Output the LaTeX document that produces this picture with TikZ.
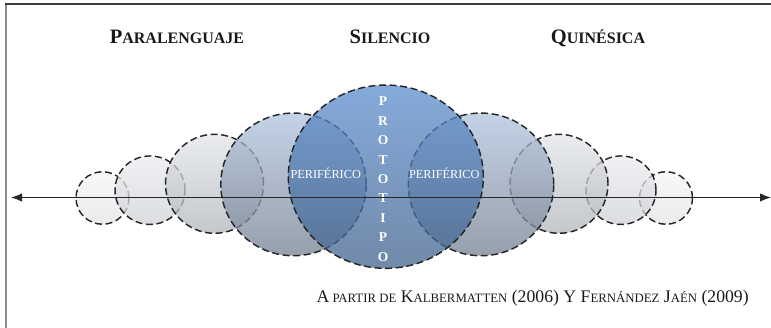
\documentclass[tikz,border=0pt]{standalone}
\usepackage{fontspec}
\setmainfont{Liberation Serif}
\usetikzlibrary{shapes.geometric,arrows.meta}
\definecolor{bigT}{RGB}{92,142,206}
\definecolor{bigB}{RGB}{66,98,140}
\definecolor{cfT}{RGB}{176,195,222}
\definecolor{cfB}{RGB}{116,128,144}
\definecolor{ctT}{RGB}{227,229,233}
\definecolor{ctB}{RGB}{176,180,186}
\definecolor{csT}{RGB}{235,236,239}
\definecolor{csB}{RGB}{206,209,213}
\definecolor{coT}{RGB}{246,246,246}
\definecolor{coB}{RGB}{228,228,229}
\definecolor{frameTop}{RGB}{60,60,60}
\definecolor{frameLeft}{RGB}{140,140,140}
\newcommand\headsc[2]{#1{\fontsize{16pt}{18pt}\selectfont #2}}
\newcommand\capsc[2]{#1{\fontsize{12.8pt}{14pt}\selectfont #2}}
\tikzset{
  bubble/.style={ellipse, inner sep=0pt, draw=black!85, line width=1.45pt,
    dash pattern=on 7pt off 3.6pt, fill opacity=0.75},
  heading/.style={anchor=base, font=\fontsize{20.5pt}{24pt}\selectfont\bfseries, text=black!90},
  perif/.style={font=\fontsize{12.3pt}{14pt}\selectfont, text=white},
}
\begin{document}
\begin{tikzpicture}[x=1pt,y=-1pt]
\useasboundingbox (0,0) rectangle (771,328);
% frame
\draw[frameLeft, line width=2.3pt] (6,4) -- (6,330);
\draw[frameTop, line width=1.7pt] (5,4) -- (773,4);
% headings
\node[heading] (hPara) at (177,43.3) {\headsc{P}{ARALENGUAJE}};
\node[heading] (hSil) at (390,43.3) {\headsc{S}{ILENCIO}};
\node[heading] (hQui) at (598,43.3) {\headsc{Q}{UINÉSICA}};
% bubbles, outermost first
\node[bubble, minimum width=53pt, minimum height=52.5pt, top color=coT, bottom color=coB] (cL1) at (102.5,198) {};
\node[bubble, minimum width=53pt, minimum height=52.5pt, top color=coT, bottom color=coB] (cR1) at (666,198) {};
\node[bubble, minimum width=70pt, minimum height=68.5pt, top color=csT, bottom color=csB] (cL2) at (150,190.2) {};
\node[bubble, minimum width=70pt, minimum height=68.5pt, top color=csT, bottom color=csB] (cR2) at (621,190.2) {};
\node[bubble, minimum width=98pt, minimum height=99pt, top color=ctT, bottom color=ctB] (cL3) at (214.5,183.8) {};
\node[bubble, minimum width=98pt, minimum height=99pt, top color=ctT, bottom color=ctB] (cR3) at (559,183.8) {};
\node[bubble, minimum width=145.5pt, minimum height=142.7pt, top color=cfT, bottom color=cfB] (cL4) at (293.5,184.4) {};
\node[bubble, minimum width=145.5pt, minimum height=142.7pt, top color=cfT, bottom color=cfB] (cR4) at (481,184.4) {};
\node[bubble, minimum width=195pt, minimum height=183.3pt, top color=bigT, bottom color=bigB] (cBig) at (385.8,176.7) {};
% labels
\node[perif] (pL) at (325.7,173.5) {PERIFÉRICO};
\node[perif] (pR) at (444.3,173.5) {PERIFÉRICO};
\node[align=center, text=white, font=\fontsize{13.5pt}{19.4pt}\selectfont\bfseries] (proto) at (383,179.2)
  {P\\R\\O\\T\\O\\T\\I\\P\\O};
% axis
\coordinate (axL) at (11,197.5);
\coordinate (axR) at (771,197.5);
\draw[{Latex[length=11pt,width=8.5pt]}-{Latex[length=11pt,width=8.5pt]}, line width=1.3pt, black!85] (axL) -- (axR);
% caption
\node[anchor=base west, font=\fontsize{17.7pt}{20pt}\selectfont, text=black!90] (cap) at (313,302.5)
  {\capsc{A}{ PARTIR DE} \capsc{K}{ALBERMATTEN} (2006) \capsc{Y}{} \capsc{F}{ERNÁNDEZ} \capsc{J}{AÉN} (2009)};
\end{tikzpicture}
\end{document}
